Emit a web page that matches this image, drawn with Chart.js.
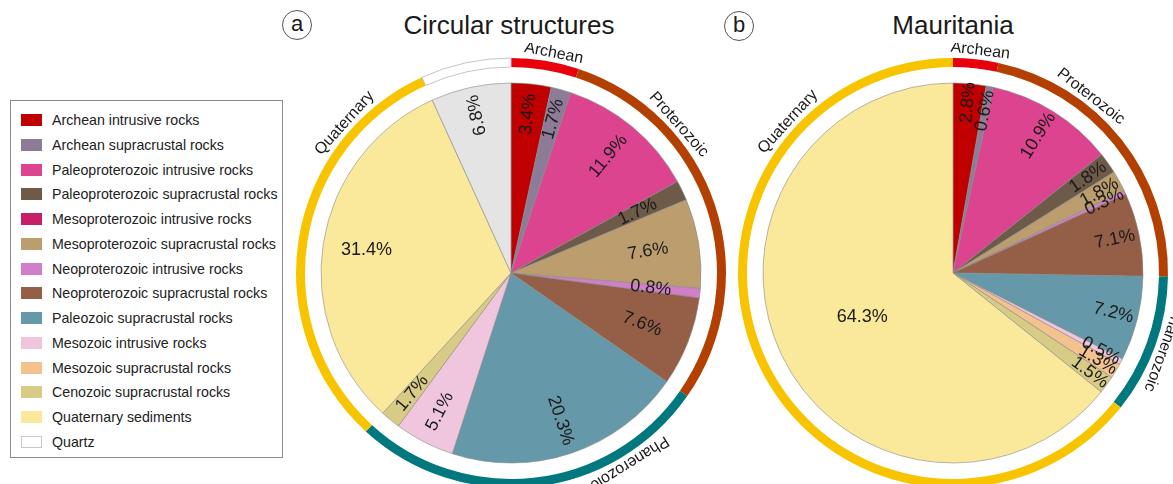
<!DOCTYPE html>
<html>
<head>
<meta charset="utf-8">
<script src="https://cdn.jsdelivr.net/npm/chart.js@4.4.1/dist/chart.umd.min.js"></script>
<style>
  body { margin: 0; width: 1173px; height: 484px; overflow: hidden; background: #fff; position: relative;
         font-family: "Liberation Sans", Arial, sans-serif; color: #1a1a1a; }
  .pie { position: absolute; top: 43px; width: 460px; height: 460px; }
  #wrapA { left: 281px; }
  #wrapB { left: 723px; }
  .title { position: absolute; top: 10px; font-size: 26px; line-height: 30px; transform: translateX(-50%); white-space: nowrap; }
  .tag { position: absolute; width: 28px; height: 28px; border: 1.3px solid #555; border-radius: 50%;
         text-align: center; line-height: 26px; font-size: 22px; }
  #legend { position: absolute; left: 10px; top: 100px; width: 273px; height: 358px; border: 1px solid #8a8a8a; box-sizing: border-box; }
  .sw { position: absolute; left: 21px; width: 21px; height: 12px; box-sizing: border-box; }
  .lt { position: absolute; left: 52px; font-size: 14.2px; line-height: 16px; white-space: nowrap; color: #222; }
</style>
</head>
<body>
<div class="tag" style="left:282px;top:10px">a</div>
<div class="title" style="left:509px">Circular structures</div>
<div class="tag" style="left:724px;top:11px">b</div>
<div class="title" style="left:953px">Mauritania</div>
<div id="legend"></div>
<div id="legendItems"></div>
<div class="pie" id="wrapA"><canvas id="chartA"></canvas></div>
<div class="pie" id="wrapB"><canvas id="chartB"></canvas></div>

<script>
// rock categories (legend order = slice order, clockwise from top)
const rockTypes = [
    'Archean intrusive rocks',
    'Archean supracrustal rocks',
    'Paleoproterozoic intrusive rocks',
    'Paleoproterozoic supracrustal rocks',
    'Mesoproterozoic intrusive rocks',
    'Mesoproterozoic supracrustal rocks',
    'Neoproterozoic intrusive rocks',
    'Neoproterozoic  supracrustal rocks',
    'Paleozoic supracrustal rocks',
    'Mesozoic  intrusive rocks',
    'Mesozoic  supracrustal rocks',
    'Cenozoic  supracrustal rocks',
    'Quaternary sediments',
    'Quartz'
];

// percentages
const circularPct   = [3.4, 1.7, 11.9, 1.7, 0, 7.6, 0.8, 7.6, 20.3, 5.1, 0, 1.7, 31.4, 6.8];
const mauritaniaPct = [2.8, 0.6, 10.9, 1.8, 0, 1.8, 0.3, 7.1, 7.2, 0.5, 1.3, 1.5, 64.3, 0];

// outer ring groups
const eras = ['Archean', 'Proterozoic', 'Phanerozoic', 'Quaternary', 'Quartz'];
const rockEra = [0, 0, 1, 1, 1, 1, 1, 1, 2, 2, 2, 2, 3, 4];

const rockColors = ['#c00000', '#8c7c98', '#dc4490', '#6e5a48', '#c71e6a', '#bc9e6e', '#d07fc8',
                    '#955e46', '#6598a8', '#efc6de', '#f4c28e', '#d8cb85', '#fbe99b', '#e4e4e4'];
const eraColors = ['#e8000c', '#b34000', '#00787e', '#f8c400', '#ffffff'];

function eraTotals(pct) {
    var out = eras.map(function () { return 0; });
    pct.forEach(function (v, i) { out[rockEra[i]] += v; });
    return out.map(function (v) { return Math.round(v * 10) / 10; });
}

// legend
var legendHtml = '';
rockTypes.forEach(function (name, i) {
    var cy = 120 + i * 24.75;
    var c = name === 'Quartz' ? '#ffffff' : rockColors[i];
    legendHtml += '<div class="sw" style="top:' + (cy - 6) + 'px;background:' + c + ';border:1px solid ' +
        (name === 'Quartz' ? '#c8c8c8' : c) + '"></div>';
    legendHtml += '<div class="lt" style="top:' + (cy - 8) + 'px">' + name + '</div>';
});
document.getElementById('legendItems').innerHTML = legendHtml;

const FONT = '"Liberation Sans", Arial, sans-serif';

const sliceLabels = {
    id: 'sliceLabels',
    afterDatasetsDraw: function (chart, args, opts) {
        var ctx = chart.ctx;
        var values = chart.data.datasets[2].data;
        ctx.save();
        ctx.fillStyle = '#1a1a1a';
        ctx.textAlign = 'center';
        ctx.textBaseline = 'middle';

        // percent labels inside the slices
        ctx.font = '18px ' + FONT;
        chart.getDatasetMeta(2).data.forEach(function (arc, i) {
            var v = values[i];
            if (!v) return;
            var p = arc.getProps(['x', 'y', 'startAngle', 'endAngle', 'outerRadius'], true);
            var mid = (p.startAngle + p.endAngle) / 2;
            var r = p.outerRadius * opts.dist[i];
            var rot = Math.atan2(Math.sin(mid), Math.cos(mid));
            if (rot > Math.PI / 2) rot -= Math.PI;
            if (rot < -2 * Math.PI / 3) rot += Math.PI;
            if (opts.flat.indexOf(i) >= 0) rot = 0;
            ctx.save();
            ctx.translate(p.x + Math.cos(mid) * r, p.y + Math.sin(mid) * r);
            ctx.rotate(rot);
            ctx.fillText(v.toFixed(1) + '%', 0, 0);
            ctx.restore();
        });

        // era names outside the ring
        ctx.font = '16px ' + FONT;
        var ringVals = chart.data.datasets[0].data;
        chart.getDatasetMeta(0).data.forEach(function (arc, i) {
            if (!ringVals[i] || eras[i] === 'Quartz') return;
            var p = arc.getProps(['x', 'y', 'startAngle', 'endAngle', 'outerRadius'], true);
            var th = opts.ringAngles[i] != null ? opts.ringAngles[i] * Math.PI / 180
                : (p.startAngle + p.endAngle) / 2 + Math.PI / 2;
            var R = p.outerRadius + 9;
            ctx.save();
            ctx.translate(p.x + Math.sin(th) * R, p.y - Math.cos(th) * R);
            ctx.rotate(th);
            ctx.fillText(eras[i], 0, 0);
            ctx.restore();
        });
        ctx.restore();
    }
};

function makePie(id, pct, dist, flat, ringAngles) {
    var eraVals = eraTotals(pct);
    return new Chart(document.getElementById(id), {
        type: 'pie',
        data: {
            labels: rockTypes,
            datasets: [{
                label: 'Era',
                data: eraVals,
                backgroundColor: eraColors,
                borderColor: '#c4c4c4',
                borderWidth: [0, 0, 0, 0, 1],
                weight: 9
            }, {
                label: 'gap',
                data: [100],
                backgroundColor: 'rgba(0,0,0,0)',
                borderWidth: 0,
                weight: 16
            }, {
                label: 'Rocks',
                data: pct,
                backgroundColor: rockColors,
                borderColor: '#8a8a8a',
                borderWidth: 0.6,
                weight: 190
            }]
        },
        options: {
            responsive: true,
            maintainAspectRatio: false,
            animation: false,
            layout: { padding: 14.5 },
            plugins: {
                legend: { display: false },
                tooltip: { enabled: false },
                sliceLabels: { dist: dist, flat: flat, ringAngles: ringAngles }
            }
        },
        plugins: [sliceLabels]
    });
}

makePie('chartA', circularPct,
    [0.84, 0.84, 0.8, 0.74, 0.8, 0.73, 0.74, 0.74, 0.82, 0.82, 0.8, 0.82, 0.77, 0.85],
    [12], [11, 48.5, 148, 312, null]);

makePie('chartB', mauritaniaPct,
    [0.9, 0.87, 0.85, 0.87, 0.87, 0.88, 0.88, 0.87, 0.87, 0.88, 0.89, 0.89, 0.53, 0.85],
    [12], [7, 38, null, 312.5, null]);
</script>
</body>
</html>
